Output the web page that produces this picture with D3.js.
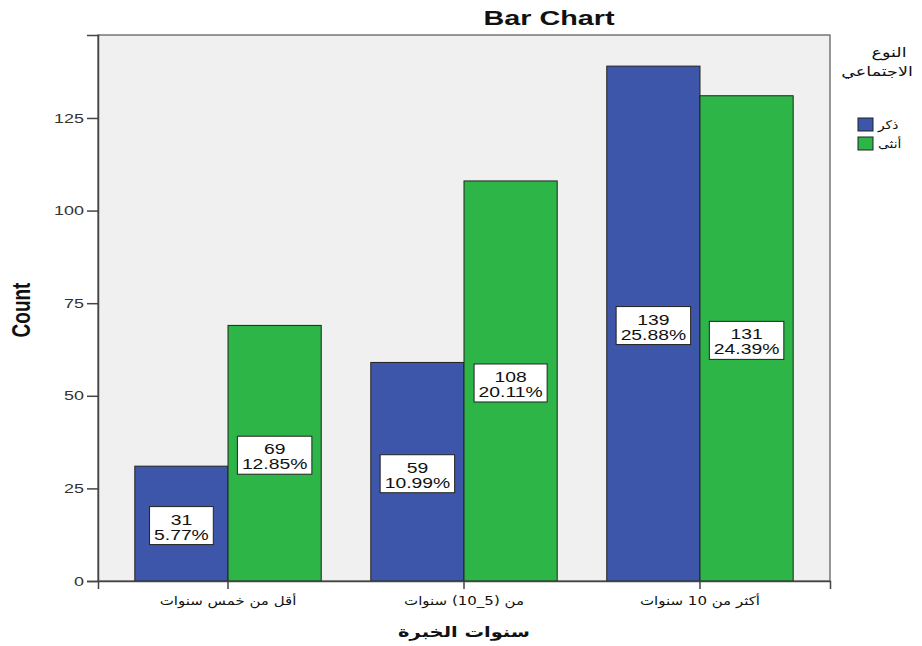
<!DOCTYPE html>
<html>
<head>
<meta charset="utf-8">
<script src="https://cdn.jsdelivr.net/npm/d3@7"></script>
<style>
  body { margin: 0; background: #fff; }
  svg text { font-family: "Liberation Sans", Arial, "DejaVu Sans", sans-serif; }
</style>
</head>
<body>
<div id="chart"></div>
<script>
// chart data
var categories = ["أقل من خمس سنوات", "من (5_10) سنوات", "أكثر من 10 سنوات"];
var groups = ["ذكر", "أنثى"];
var maleCounts = [31, 59, 139];
var femaleCounts = [69, 108, 131];
var malePct = ["5.77%", "10.99%", "25.88%"];
var femalePct = ["12.85%", "20.11%", "24.39%"];
var yTicks = [0, 25, 50, 75, 100, 125];

var W = 922, H = 646;
var plot = {left: 98, right: 830, top: 35, bottom: 581};
var sx = 1.38;   // the original output is stretched sideways

var svg = d3.select("#chart").append("svg")
    .attr("width", W).attr("height", H);

// plot background
svg.append("rect")
    .attr("x", plot.left).attr("y", plot.top)
    .attr("width", plot.right - plot.left)
    .attr("height", plot.bottom - plot.top)
    .attr("fill", "#f0f0f0")
    .attr("stroke", "#555").attr("stroke-width", 1.2);

var y = d3.scaleLinear()
    .domain([0, 147.4])
    .range([plot.bottom, plot.top]);

var x0 = d3.scaleBand()
    .domain(categories)
    .range([plot.left, plot.right])
    .paddingInner(0.21)
    .paddingOuter(0.156);

var x1 = d3.scaleBand()
    .domain(groups)
    .range([0, x0.bandwidth()]);

var color = d3.scaleOrdinal()
    .domain(groups)
    .range(["#3d56aa", "#2eb548"]);

// rows for bars
var rows = [];
categories.forEach(function(c, i) {
  rows.push({cat: c, g: groups[0], v: maleCounts[i], pct: malePct[i]});
  rows.push({cat: c, g: groups[1], v: femaleCounts[i], pct: femalePct[i]});
});

svg.append("g").selectAll("rect")
  .data(rows)
  .enter()
  .append("rect")
    .attr("x", function(d) { return x0(d.cat) + x1(d.g); })
    .attr("y", function(d) { return y(d.v); })
    .attr("width", x1.bandwidth())
    .attr("height", function(d) { return y(0) - y(d.v); })
    .attr("fill", function(d) { return color(d.g); })
    .attr("stroke", "#222").attr("stroke-width", 1);

// value labels in boxes at the middle of each bar
var labels = svg.append("g");
rows.forEach(function(d) {
  var cx = x0(d.cat) + x1(d.g) + x1.bandwidth() / 2;
  var cy = y(d.v / 2) + 2;
  var g = labels.append("g").attr("transform", "translate(" + cx + "," + cy + ")");
  var t = g.append("text")
      .attr("transform", "scale(" + sx + ",1)")
      .attr("text-anchor", "middle")
      .attr("font-size", 14)
      .attr("fill", "#111");
  t.append("tspan").attr("x", 0).attr("y", -1).text(d.v);
  t.append("tspan").attr("x", 0).attr("y", 14).text(d.pct);
  var w = t.node().getBBox().width * sx + 9;
  g.insert("rect", "text")
    .attr("x", -w / 2).attr("y", -19)
    .attr("width", w).attr("height", 38)
    .attr("fill", "#fff")
    .attr("stroke", "#222").attr("stroke-width", 1);
});

// y axis
var yAxis = svg.append("g")
    .attr("transform", "translate(" + plot.left + ",0)")
    .call(d3.axisLeft(y).tickValues(yTicks).tickSize(11).tickPadding(3));
yAxis.select(".domain").attr("stroke", "#444").attr("stroke-width", 1.5);
yAxis.selectAll(".tick line").attr("stroke", "#444").attr("stroke-width", 1.5);
yAxis.selectAll(".tick text")
    .attr("x", -14 / sx)
    .attr("transform", "scale(" + sx + ",1)")
    .attr("font-size", 13)
    .attr("fill", "#333")
    .style("font-family", "'Liberation Sans', Arial, sans-serif");

// x axis
var xAxis = svg.append("g")
    .attr("transform", "translate(0," + plot.bottom + ")")
    .call(d3.axisBottom(x0).tickSize(8).tickPadding(7));
xAxis.select(".domain").attr("stroke", "#444").attr("stroke-width", 1.5);
xAxis.selectAll(".tick line").attr("stroke", "#444").attr("stroke-width", 1.5);
xAxis.selectAll(".tick text")
    .attr("transform", "scale(1.25,1)")
    .attr("font-size", 12)
    .attr("fill", "#111")
    .attr("direction", "rtl")
    .attr("text-anchor", "middle")
    .style("font-family", "'DejaVu Sans', sans-serif");

// titles
svg.append("text")
    .attr("transform", "translate(549,25) scale(1.44,1)")
    .attr("text-anchor", "middle")
    .attr("font-size", 20).attr("font-weight", "bold")
    .attr("fill", "#111")
    .text("Bar Chart");

svg.append("text")
    .attr("transform", "translate(30,310) scale(1.4,1) rotate(-90)")
    .attr("text-anchor", "middle")
    .attr("font-size", 19).attr("font-weight", "bold")
    .attr("fill", "#111")
    .text("Count");

svg.append("text")
    .attr("transform", "translate(464,637) scale(1.3,1)")
    .attr("text-anchor", "middle")
    .attr("direction", "rtl")
    .attr("font-size", 15).attr("font-weight", "bold")
    .attr("fill", "#111")
    .style("font-family", "'DejaVu Sans', sans-serif")
    .text("سنوات الخبرة");

// legend
var legend = svg.append("g");
legend.append("text")
    .attr("transform", "translate(889,57) scale(1.3,1)")
    .attr("text-anchor", "middle")
    .attr("direction", "rtl")
    .attr("font-size", 13.5).attr("fill", "#111")
    .style("font-family", "'DejaVu Sans', sans-serif")
    .text("النوع");
legend.append("text")
    .attr("transform", "translate(877,76) scale(1.3,1)")
    .attr("text-anchor", "middle")
    .attr("direction", "rtl")
    .attr("font-size", 13.5).attr("fill", "#111")
    .style("font-family", "'DejaVu Sans', sans-serif")
    .text("الاجتماعي");

groups.forEach(function(g, i) {
  legend.append("rect")
      .attr("x", 858).attr("y", 118 + i * 19)
      .attr("width", 15).attr("height", 13)
      .attr("fill", color(g))
      .attr("stroke", "#222").attr("stroke-width", 1);
  legend.append("text")
      .attr("transform", "translate(878," + (129 + i * 19) + ") scale(1.15,1)")
      .attr("text-anchor", "start")
      .attr("font-size", 12).attr("fill", "#111")
      .style("font-family", "'DejaVu Sans', sans-serif")
      .text(g);
});
</script>
</body>
</html>
